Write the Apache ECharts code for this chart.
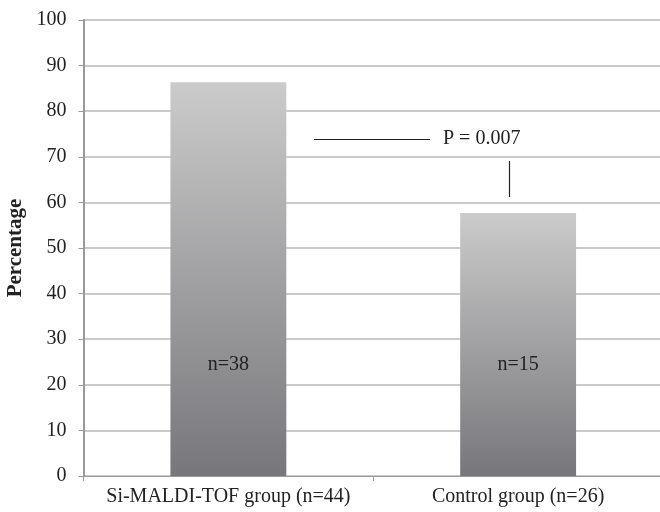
<!DOCTYPE html>
<html>
<head>
<meta charset="utf-8">
<script src="https://cdn.jsdelivr.net/npm/echarts@6/dist/echarts.min.js"></script>
<style>html,body{margin:0;padding:0;background:#fff;}#c{width:660px;height:512px;}</style>
</head>
<body>
<div id="c"></div>
<script>
const categories = ['Si-MALDI-TOF group (n=44)', 'Control group (n=26)'];
const percentages = [86.36, 57.69];
const countLabels = ['n=38', 'n=15'];
const yTicks = { min: 0, max: 100, interval: 10 };
const pValueText = 'P = 0.007';

const font = 'Liberation Serif';
const chart = echarts.init(document.getElementById('c'), null, { renderer: 'canvas' });
chart.setOption({
  animation: false,
  backgroundColor: '#fff',
  grid: { left: 83.5, right: -3, top: 20, bottom: 36, containLabel: false, outerBoundsMode: 'none' },
  xAxis: {
    type: 'category',
    data: categories,
    axisLine: { show: true, lineStyle: { color: '#9a9a9a', width: 1 } },
    axisTick: { show: true, length: 5, lineStyle: { color: '#9a9a9a' } },
    axisLabel: { fontFamily: font, fontSize: 20, color: '#222', margin: 11, interval: 0, hideOverlap: false }
  },
  yAxis: {
    type: 'value',
    min: yTicks.min, max: yTicks.max, interval: yTicks.interval,
    name: 'Percentage',
    nameLocation: 'middle',
    nameRotate: 90,
    nameGap: 55,
    nameTextStyle: { fontFamily: font, fontSize: 21, fontWeight: 'bold', color: '#222' },
    axisLine: { show: true, lineStyle: { color: '#9a9a9a', width: 2 } },
    axisTick: { show: true, length: 5, lineStyle: { color: '#9a9a9a' } },
    axisLabel: { fontFamily: font, fontSize: 20, color: '#222', margin: 17 },
    splitLine: { show: true, lineStyle: { color: '#b8b8b8', width: 1.5 } }
  },
  series: [{
    type: 'bar',
    data: percentages.map((v, i) => ({ value: v, label: { formatter: countLabels[i] } })),
    barWidth: '40%',
    itemStyle: {
      color: new echarts.graphic.LinearGradient(0, 0, 0, 1, [
        { offset: 0, color: '#cbcbcb' },
        { offset: 1, color: '#77777b' }
      ])
    },
    label: {
      show: true,
      position: 'insideBottom',
      distance: 101,
      fontFamily: font, fontSize: 20, color: '#222'
    }
  }],
  graphic: [
    { type: 'line', shape: { x1: 314, y1: 139.5, x2: 430, y2: 139.5 }, style: { stroke: '#222', lineWidth: 1.2 } },
    { type: 'line', shape: { x1: 509.5, y1: 161, x2: 509.5, y2: 197 }, style: { stroke: '#222', lineWidth: 1.2 } },
    { type: 'text', x: 443, y: 139, style: { text: pValueText, font: '20px "Liberation Serif"', fill: '#222', textVerticalAlign: 'middle', verticalAlign: 'middle' } }
  ]
});
</script>
</body>
</html>
